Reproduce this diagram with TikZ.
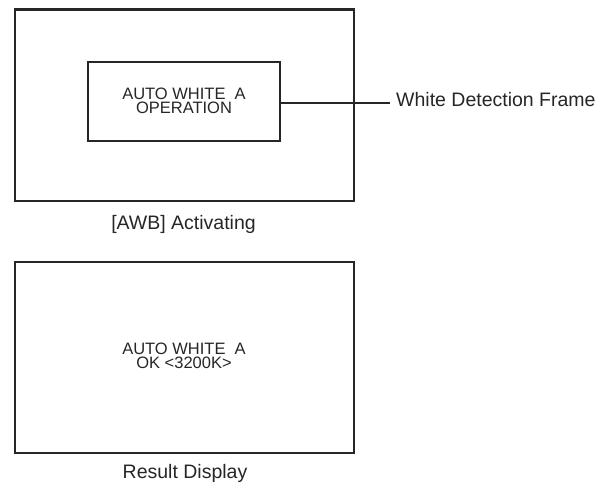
\documentclass[tikz,border=0pt]{standalone}
\usepackage{fontspec}
\setmainfont{Liberation Sans}
\definecolor{ink}{HTML}{262626}
\tikzset{
  frame/.style={draw=ink, line width=2.3pt, rectangle, inner sep=0pt},
  boxtext/.style={text=ink, anchor=base, inner sep=0pt, font=\fontsize{16.5}{18}\selectfont},
  caption/.style={text=ink, inner sep=0pt, font=\fontsize{19.5}{22}\selectfont},
  leader/.style={draw=ink, line width=1.6pt}
}
\begin{document}
\begin{tikzpicture}[x=1pt,y=-1pt]
\useasboundingbox (0,0) rectangle (607,483);
% top screen
\node[frame, minimum width=339.5pt, minimum height=191.2pt] (screenA) at (184.5,105.1) {};
\node[frame, line width=2pt, minimum width=192pt, minimum height=79pt] (inner) at (184,101.5) {};
\node[boxtext] (opLine1) at (184,99) {AUTO WHITE~~A};
\node[boxtext] (opLine2) at (184,113.6) {OPERATION};
\coordinate (lead) at (390,102.7);
\draw[leader] (inner.east |- lead) -- (lead);
\node[caption, anchor=base west] (wdf) at (396,106.7) {White Detection Frame};
\node[caption, anchor=base] (capA) at (183.5,229) {[AWB] Activating};
% bottom screen
\node[frame, minimum width=339.5pt, minimum height=191.3pt] (screenB) at (184.5,357.35) {};
\node[boxtext] (okLine1) at (184,354) {AUTO WHITE~~A};
\node[boxtext] (okLine2) at (184,368.6) {OK <3200K>};
\node[caption, anchor=base] (capB) at (185,478.3) {Result Display};
\end{tikzpicture}
\end{document}
